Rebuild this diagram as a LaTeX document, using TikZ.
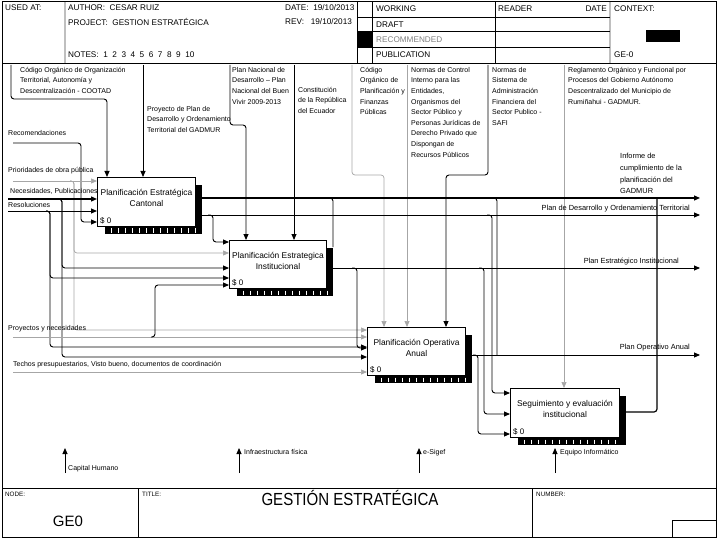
\documentclass[tikz,border=0pt]{standalone}
\usepackage{fontspec}
\setmainfont{Liberation Sans}
\usetikzlibrary{positioning}
\usetikzlibrary{calc}
\usetikzlibrary{arrows.meta}
\usetikzlibrary{backgrounds}
\tikzset{act/.style = {draw, line width=1pt, fill=white, anchor=north west, inner sep=0pt}}
\tikzset{acttext/.style = {align=center, inner sep=0pt, font=\fontsize{8.4}{11}\selectfont}}
\tikzset{lbl/.style = {anchor=north west, align=left, inner sep=0pt, font=\fontsize{7}{10.6}\selectfont}}
\tikzset{inlbl/.style = {anchor=west, inner sep=0pt, font=\fontsize{7}{8}\selectfont}}
\tikzset{outlbl/.style = {anchor=east, inner sep=0pt, font=\fontsize{7.4}{8}\selectfont}}
\tikzset{hdr/.style = {anchor=west, inner sep=0pt, font=\fontsize{8.2}{9}\selectfont}}
\tikzset{small/.style = {anchor=west, inner sep=0pt, font=\fontsize{6.3}{7}\selectfont}}
\tikzset{arr/.style = {-{Triangle[length=6pt,width=5pt]}, line width=0.9pt, rounded corners=3pt}}
\tikzset{link/.style = {line width=0.9pt, rounded corners=3pt}}
\tikzset{pale/.style = {draw=gray!70, line width=0.7pt}}
\newcommand{\actshadow}[2]{%
  \fill ($(#1.north east)+(0,8)$) rectangle ($(#1.south east)+(6,7)$);
  \fill ($(#1.south west)+(8,0)$) rectangle ($(#1.south east)+(6,7)$);
  \foreach \k in {6,13,...,#2}
    \draw[white, line width=0.7pt] ($(#1.south west)+(8+\k,1.5)$) -- ++(0,4.5);
}
\begin{document}
\begin{tikzpicture}[x=1pt,y=-1pt]
  \useasboundingbox (0,0) rectangle (720,540);
  % frame and header
  \draw[line width=1pt] (2,2) rectangle (716,537);
  \draw[line width=0.8pt] (2,63) -- (716,63);
  \draw[line width=0.8pt] (2,488) -- (716,488);
  \draw[gray!50, line width=1.2pt] (65,2) -- (65,63);
  \draw[gray!50, line width=1.2pt] (610,2) -- (610,63);
  \draw (357,2) -- (357,63);
  \draw (372,2) -- (372,63);
  \draw (495,2) -- (495,63);
  \foreach \r in {17,47} \draw (357,\r) -- (610,\r);
  \draw[line width=1pt] (357,32) -- (610,32);
  \fill (357,32) rectangle (372,47);
  \fill (646,30) rectangle (680,42);

  \node[hdr] (usedat) at (5,8) {USED AT:};
  \node[hdr] (author) at (68,8) {AUTHOR:\ \ CESAR RUIZ};
  \node[hdr] (project) at (68,22) {PROJECT:\ \ GESTION ESTRATÉGICA};
  \node[hdr] (date) at (285,8) {DATE:\ \ 19/10/2013};
  \node[hdr] (rev) at (285,22) {REV:\ \ \ 19/10/2013};
  \node[hdr] (notes) at (68,55) {NOTES:\ \ 1\ \ 2\ \ 3\ \ 4\ \ 5\ \ 6\ \ 7\ \ 8\ \ 9\ \ 10};
  \node[hdr] (working) at (376,9) {WORKING};
  \node[hdr] (draft) at (376,24.5) {DRAFT};
  \node[hdr, gray] (recom) at (376,39.5) {RECOMMENDED};
  \node[hdr] (public) at (376,54.5) {PUBLICATION};
  \node[hdr] (reader) at (498,9) {READER};
  \node[hdr, anchor=east] (rdate) at (607,9) {DATE};
  \node[hdr] (context) at (614,9) {CONTEXT:};
  \node[hdr] (ctxnode) at (614,54.5) {GE-0};

  % footer
  \draw (138,488) -- (138,537);
  \draw (532,488) -- (532,537);
  \draw (672,520) rectangle (716,537);
  \node[small] (nodelbl) at (5,494) {NODE:};
  \node[small] (titlelbl) at (142,494) {TITLE:};
  \node[small] (numlbl) at (536,494) {NUMBER:};
  \node[inner sep=0pt, font=\fontsize{15}{17}\selectfont] (nodeno) at (68,521) {GE0};
  \node[inner sep=0pt, font=\fontsize{17.5}{19}\selectfont] (title) at (350,498)
    {\scalebox{0.86}[1]{GESTIÓN ESTRATÉGICA}};

  % activities
  \node[act, minimum width=98pt, minimum height=49pt] (pec) at (97,177) {};
  \node[act, minimum width=97pt, minimum height=48pt] (pei) at (229,240) {};
  \node[act, minimum width=98pt, minimum height=48pt] (poa) at (367,327) {};
  \node[act, minimum width=109pt, minimum height=49pt] (sei) at (510,388) {};
  \actshadow{pec}{90}
  \actshadow{pei}{90}
  \actshadow{poa}{90}
  \actshadow{sei}{100}
  \node[acttext] (pecT) at ($(pec.center)+(0,-4)$) {Planificación Estratégica\\Cantonal};
  \node[acttext] (peiT) at ($(pei.center)+(0,-4)$) {Planificación Estrategica\\Institucional};
  \node[acttext] (poaT) at ($(poa.center)+(0,-4)$) {Planificación Operativa\\Anual};
  \node[acttext] (seiT) at ($(sei.center)+(0,-4)$) {Seguimiento y evaluación\\institucional};
  \foreach \b in {pec,pei,poa,sei}
    \node[anchor=south west, inner sep=0pt, font=\fontsize{8}{9}\selectfont] at ($(\b.south west)+(3,-3)$) {\$ 0};

  % control texts
  \node[lbl] (tCootad) at (20,67) {Código Orgánico de Organización\\Territorial, Autonomía y\\Descentralización - COOTAD};
  \node[lbl] (tProy) at (147,106) {Proyecto de Plan de\\Desarrollo y Ordenamiento\\Territorial del GADMUR};
  \node[lbl] (tPnd) at (232,67) {Plan Nacional de\\Desarrollo -- Plan\\Nacional del Buen\\Vivir 2009-2013};
  \node[lbl] (tConst) at (298,87) {Constitución\\de la República\\del Ecuador};
  \node[lbl] (tCopfp) at (360,67) {Código\\Orgánico de\\Planificación y\\Finanzas\\Públicas};
  \node[lbl] (tNci) at (411,67) {Normas de Control\\Interno para las\\Entidades,\\Organismos del\\Sector Público y\\Personas Jurídicas de\\Derecho Privado que\\Dispongan de\\Recursos Públicos};
  \node[lbl] (tSafi) at (492,67) {Normas de\\Sistema de\\Administración\\Financiera del\\Sector Publico -\\SAFI};
  \node[lbl] (tReg) at (568,67) {Reglamento Orgánico y Funcional por\\Procesos del Gobierno Autónomo\\Descentralizado del Municipio de\\Rumiñahui - GADMUR.};

  % input, output and mechanism texts
  \node[inlbl] (tRec) at (8,133) {Recomendaciones};
  \node[inlbl] (tPri) at (8,171) {Prioridades de obra pública};
  \node[inlbl] (tNec) at (10,191) {Necesidades, Publicaciones};
  \node[inlbl] (tRes) at (8,205) {Resoluciones};
  \node[inlbl] (tProyN) at (8,329) {Proyectos y necesidades};
  \node[inlbl] (tTech) at (13,365) {Techos presupuestarios, Visto bueno, documentos de coordinación};
  \node[lbl, font=\fontsize{7.4}{11.8}\selectfont] (tInf) at (620,153) {Informe de\\cumplimiento de la\\planificación del\\GADMUR};
  \node[outlbl] (tPdot) at (690,209) {Plan de Desarrollo y Ordenamiento Territorial};
  \node[outlbl] (tPei) at (679,262) {Plan Estratégico Institucional};
  \node[outlbl] (tPoa) at (690,348) {Plan Operativo Anual};
  \node[inlbl] (tCap) at (68,469) {Capital Humano};
  \node[inlbl] (tInfra) at (244,452) {Infraestructura física};
  \node[inlbl] (tSigef) at (423,453) {e-Sigef};
  \node[inlbl] (tEquipo) at (560,453) {Equipo Informático};

  \begin{scope}[on background layer]
    % controls
    \coordinate (cCootad) at (11,65);
    \coordinate (cProy) at (143,65);
    \coordinate (cPnd) at (230,65);
    \coordinate (cConst) at (294,65);
    \coordinate (cCopfp) at (352,65);
    \coordinate (cNci) at (407,65);
    \coordinate (cSafi) at (488,65);
    \coordinate (cReg) at (564,65);
    \draw[arr] (cCootad) |- (107,99) -- (107,0 |- pec.north);
    \draw[arr] (cProy) -- (cProy |- pec.north);
    \draw[arr] (cPnd) |- (246,125) -- (246,0 |- pei.north);
    \draw[arr] (cConst) -- (cConst |- pei.north);
    \draw[arr, pale] (cCopfp) |- (384,175) -- (384,0 |- poa.north);
    \draw[arr, pale] (cNci) -- (cNci |- poa.north);
    \draw[arr] (cSafi) |- (446,175) -- (446,0 |- poa.north);
    \draw[arr, pale] (cReg) -- (cReg |- sei.north);

    % inputs
    \coordinate (iRec) at (13,143);
    \coordinate (iPri) at (13,181);
    \coordinate (iNec) at (8,199);
    \coordinate (iRes) at (8,211);
    \coordinate (iProy) at (13,337);
    \coordinate (iTech) at (13,372);
    \draw[arr] (iRec) -| (81,222) -- (pec.west |- 0,222);
    \draw[arr, pale] (iPri) -- (pec.west |- iPri);
    \draw[arr, pale] (70,181) -| (74,253) -- (pei.west |- 0,253);
    \draw[arr, pale] (70,181) -| (74,330) -- (poa.west |- 0,330);
    \draw[arr, line width=1.2pt] (iNec) -- (pec.west |- iNec);
    \draw[arr] (58,199) -| (62,268) -- (pei.west |- 0,268);
    \draw[arr] (58,199) -| (62,357) -- (poa.west |- 0,357);
    \draw[arr] (iRes) -- (pec.west |- iRes);
    \draw[arr] (46,211) -| (50,278) -- (pei.west |- 0,278);
    \draw[arr] (46,211) -| (50,347) -- (poa.west |- 0,347);
    \draw[arr, pale] (iProy) -- (poa.west |- iProy);
    \draw[arr] (151,337) -| (155,285) -- (pei.west |- 0,285);
    \draw[arr, pale] (iTech) -- (poa.west |- iTech);

    % outputs
    \draw[arr, line width=1.2pt] (pec.east |- 0,198) -- (700,198);
    \draw[arr] (pec.east |- 0,215) -- (700,215);
    \draw[arr] (208,215) -| (213,242) -- (pei.west |- 0,242);
    \draw[link] (328,198) -| (333,247);
    \draw[arr] (pei.east |- 0,268) -- (700,268);
    \draw[arr] (352,268) -| (357,348) -- (poa.west |- 0,348);
    \draw[arr] (479,268) -| (484,414) -- (sei.west |- 0,414);
    \draw[arr] (poa.east |- 0,355) -- (700,355);
    \draw[arr] (473,355) -| (478,434) -- (sei.west |- 0,434);
    \draw[link] (492,198) -| (497,355);
    \draw[arr] (487,215) -| (492,393) -- (sei.west |- 0,393);
    \draw[link, line width=1.2pt] (sei.east |- 0,412) -| (657,198);

    % mechanisms
    \coordinate (mCap) at (65,473);
    \coordinate (mInfra) at (239,473);
    \coordinate (mSigef) at (419,473);
    \coordinate (mEquipo) at (555,473);
    \foreach \m in {mCap,mInfra,mSigef,mEquipo}
      \draw[arr] (\m) -- ++(0,-25);
  \end{scope}
\end{tikzpicture}
\end{document}
